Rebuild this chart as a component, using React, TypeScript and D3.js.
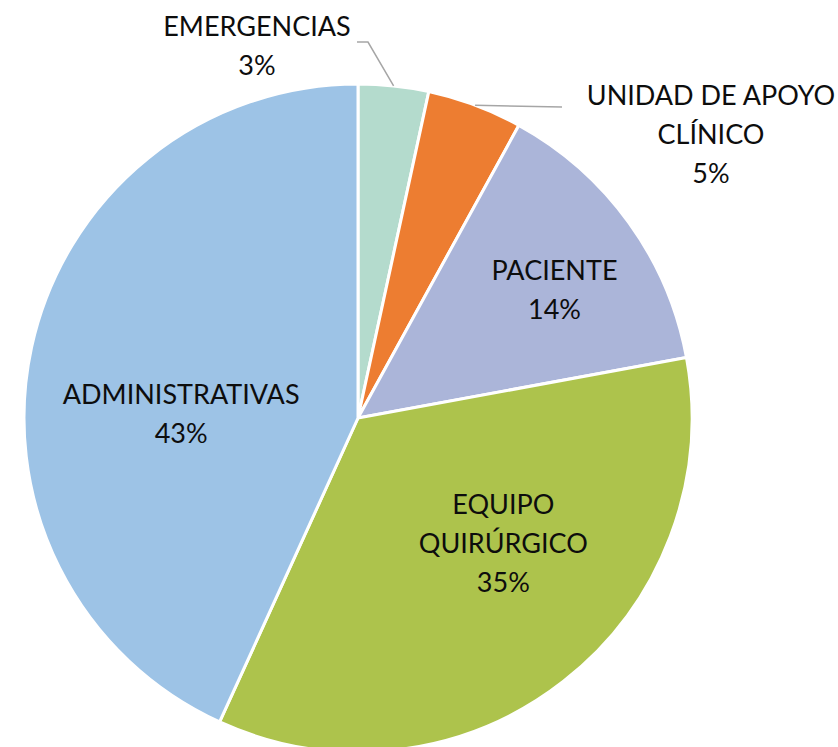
import React, { useEffect, useRef } from 'react';
import * as d3 from 'd3';

const CATEGORIES = ['EMERGENCIAS', 'UNIDAD DE APOYO CLÍNICO', 'PACIENTE', 'EQUIPO QUIRÚRGICO', 'ADMINISTRATIVAS'];
const VALUES = [3.4, 4.6, 14.1, 34.7, 43.2];
const COLORS = ['#b4dbcd', '#ed7d31', '#abb5d9', '#adc34c', '#9dc3e6'];
// how each label is split on lines
const LABEL_LINES: Record<string, string[]> = {
  EMERGENCIAS: ['EMERGENCIAS'],
  'UNIDAD DE APOYO CLÍNICO': ['UNIDAD DE APOYO', 'CLÍNICO'],
  PACIENTE: ['PACIENTE'],
  'EQUIPO QUIRÚRGICO': ['EQUIPO', 'QUIRÚRGICO'],
  ADMINISTRATIVAS: ['ADMINISTRATIVAS'],
};

const WIDTH = 838;
const HEIGHT = 747;
const CX = 358;
const CY = 418;
const R = 334;
const LINE_H = 39;

type Placement = { inside: boolean; dx: number; dy: number; elbow?: [number, number]; end?: [number, number] };

// label block centre relative to centroid at 0.6R (inside) or to pie centre (outside)
const PLACEMENT: Record<string, Placement> = {
  EMERGENCIAS: { inside: false, dx: -101, dy: -372, elbow: [10, -376], end: [-1, -376] },
  'UNIDAD DE APOYO CLÍNICO': { inside: false, dx: 353, dy: -283, end: [204, -311] },
  PACIENTE: { inside: true, dx: 34, dy: -11 },
  'EQUIPO QUIRÚRGICO': { inside: true, dx: 22, dy: -32 },
  ADMINISTRATIVAS: { inside: true, dx: 19, dy: 39 },
};

const App: React.FC = () => {
  const svgRef = useRef<SVGSVGElement>(null);

  useEffect(() => {
    if (!svgRef.current) return;
    const svg = d3.select(svgRef.current);
    svg.selectAll('*').remove();

    const total = d3.sum(VALUES);
    const data = CATEGORIES.map((c, i) => ({ cat: c, value: VALUES[i], color: COLORS[i] }));
    const pie = d3.pie<{ cat: string; value: number; color: string }>()
      .value((d) => d.value)
      .sort(null);
    const arcs = pie(data);

    const arc = d3.arc<d3.PieArcDatum<any>>().innerRadius(0).outerRadius(R);
    const labelArc = d3.arc<d3.PieArcDatum<any>>().innerRadius(R * 0.6).outerRadius(R * 0.6);
    const edgeArc = d3.arc<d3.PieArcDatum<any>>().innerRadius(R).outerRadius(R);

    const g = svg.append('g').attr('transform', `translate(${CX},${CY})`);

    g.selectAll('path.slice')
      .data(arcs)
      .enter()
      .append('path')
      .attr('class', 'slice')
      .attr('d', arc as any)
      .attr('fill', (d) => d.data.color)
      .attr('stroke', '#ffffff')
      .attr('stroke-width', 3)
      .attr('stroke-linejoin', 'round');

    arcs.forEach((a) => {
      const p = PLACEMENT[a.data.cat];
      const lines = [...LABEL_LINES[a.data.cat], `${Math.round((a.data.value / total) * 100)}%`];
      let x: number;
      let y: number;
      if (p.inside) {
        const [lx, ly] = labelArc.centroid(a);
        x = lx + p.dx;
        y = ly + p.dy;
      } else {
        x = p.dx;
        y = p.dy;
        const start = edgeArc.centroid(a);
        const pts: [number, number][] = [start];
        if (p.elbow) pts.push(p.elbow);
        if (p.end) pts.push(p.end);
        g.append('path')
          .attr('d', d3.line()(pts)!)
          .attr('fill', 'none')
          .attr('stroke', '#a6a6a6')
          .attr('stroke-width', 1.5);
      }

      const text = g.append('text')
        .attr('text-anchor', 'middle')
        .attr('font-family', 'Lato, "Open Sans", sans-serif')
        .attr('font-size', '27px')
        .attr('fill', '#0d0d0d');
      const y0 = y - ((lines.length - 1) * LINE_H) / 2;
      lines.forEach((l, i) => {
        text.append('tspan')
          .attr('x', x)
          .attr('y', y0 + i * LINE_H)
          .attr('dy', '0.35em')
          .text(l);
      });
    });
  }, []);

  return (
    <svg
      ref={svgRef}
      width={WIDTH}
      height={HEIGHT}
      style={{ position: 'absolute', left: 0, top: 0, background: '#ffffff' }}
    />
  );
};

export default App;
